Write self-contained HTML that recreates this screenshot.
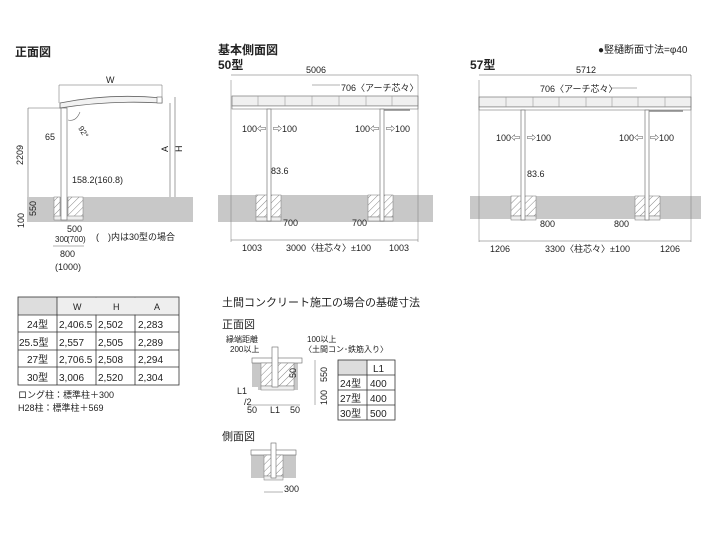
<!DOCTYPE html>
<html><head><meta charset="utf-8"><style>
html,body{margin:0;padding:0;background:#fff;}
svg{display:block;font-family:"Liberation Sans","Noto Sans CJK JP",sans-serif;}
</style></head><body>
<svg width="720" height="540" viewBox="0 0 720 540" xmlns="http://www.w3.org/2000/svg">
<defs>
<pattern id="h" width="5" height="5" patternUnits="userSpaceOnUse" patternTransform="rotate(45)">
<rect width="5" height="5" fill="#fff"/><line x1="0" y1="0" x2="0" y2="5" stroke="#888" stroke-width="1"/>
</pattern>
</defs>
<g font-size="9" fill="#222">
<!-- ===== 正面図 ===== -->
<text x="15" y="56" font-size="12" font-weight="bold">正面図</text>
<rect x="27" y="197" width="166" height="25" fill="#c8c8c8"/>
<rect x="54" y="197" width="6" height="20" fill="url(#h)" stroke="#777" stroke-width="0.5"/>
<rect x="68" y="197" width="15" height="20" fill="url(#h)" stroke="#777" stroke-width="0.5"/>
<rect x="54" y="216" width="29" height="4" fill="#eee" stroke="#777" stroke-width="0.5"/>
<rect x="61" y="108" width="6" height="112" fill="#fff" stroke="#777" stroke-width="0.7"/>
<path d="M60 103 Q110 93 162 98 L162 103 Q110 100 60 108 Z" fill="#f2f2f2" stroke="#666" stroke-width="0.8"/>
<rect x="157" y="97" width="5" height="6" fill="#fff" stroke="#666" stroke-width="0.6"/>
<line x1="170" y1="103" x2="170" y2="197" stroke="#777" stroke-width="0.7"/>
<line x1="175" y1="97" x2="175" y2="197" stroke="#777" stroke-width="0.7"/>
<line x1="59" y1="85" x2="162" y2="85" stroke="#666" stroke-width="0.6"/>
<line x1="59" y1="85" x2="59" y2="103" stroke="#666" stroke-width="0.5"/>
<line x1="162" y1="85" x2="162" y2="97" stroke="#666" stroke-width="0.5"/>
<text x="106" y="83">W</text>
<text x="168" y="152" transform="rotate(-90 168 152)" >A</text>
<text x="182" y="152" transform="rotate(-90 182 152)">H</text>
<line x1="28" y1="108" x2="28" y2="197" stroke="#666" stroke-width="0.6"/>
<line x1="28" y1="108" x2="61" y2="108" stroke="#666" stroke-width="0.5"/>
<text x="23" y="165" transform="rotate(-90 23 165)">2209</text>
<text x="45" y="140">65</text>
<text x="72" y="183">158.2(160.8)</text>
<path d="M68 120 Q76 122 80 112" fill="none" stroke="#666" stroke-width="0.6"/>
<text x="78" y="128" transform="rotate(60 78 128)" font-size="8">92°</text>
<text x="36" y="216" transform="rotate(-90 36 216)">550</text>
<text x="24" y="228" transform="rotate(-90 24 228)">100</text>
<text x="67" y="232">500</text>
<text x="55" y="242" font-size="8">300</text>
<text x="67" y="242" font-size="8">(700)</text>
<line x1="53" y1="246" x2="84" y2="246" stroke="#666" stroke-width="0.6"/>
<text x="60" y="257">800</text>
<text x="55" y="270">(1000)</text>
<text x="96" y="240">(　)内は30型の場合</text>

<!-- ===== 50型 ===== -->
<text x="218" y="54" font-size="12" font-weight="bold">基本側面図</text>
<text x="218" y="69" font-size="12" font-weight="bold">50型</text>
<line x1="231" y1="75" x2="418" y2="75" stroke="#666" stroke-width="0.6"/>
<text x="306" y="73">5006</text>
<line x1="312" y1="85" x2="340" y2="85" stroke="#666" stroke-width="0.6"/>
<text x="341" y="91">706〈アーチ芯々〉</text>
<rect x="232" y="96" width="186" height="10" fill="#f0f0f0" stroke="#777" stroke-width="0.7"/>
<rect x="232" y="106" width="186" height="3" fill="#fff" stroke="#777" stroke-width="0.6"/>
<g stroke="#999" stroke-width="0.6"><line x1="258" y1="96" x2="258" y2="106"/><line x1="285" y1="96" x2="285" y2="106"/><line x1="312" y1="96" x2="312" y2="106"/><line x1="339" y1="96" x2="339" y2="106"/><line x1="366" y1="96" x2="366" y2="106"/><line x1="392" y1="96" x2="392" y2="106"/></g>
<rect x="218" y="195" width="215" height="27" fill="#c8c8c8"/>
<rect x="256" y="195" width="25" height="22" fill="url(#h)" stroke="#777" stroke-width="0.5"/>
<rect x="368" y="195" width="25" height="22" fill="url(#h)" stroke="#777" stroke-width="0.5"/>
<rect x="256" y="217" width="25" height="4" fill="#eee" stroke="#777" stroke-width="0.5"/>
<rect x="368" y="217" width="25" height="4" fill="#eee" stroke="#777" stroke-width="0.5"/>
<rect x="267" y="109" width="4" height="112" fill="#fff" stroke="#777" stroke-width="0.7"/>
<rect x="380" y="109" width="4" height="112" fill="#fff" stroke="#777" stroke-width="0.7"/>
<line x1="384" y1="110" x2="410" y2="110" stroke="#888" stroke-width="1.5"/>
<text x="242" y="132">100⇦</text><text x="273" y="132">⇨100</text>
<text x="355" y="132">100⇦</text><text x="386" y="132">⇨100</text>
<text x="271" y="174">83.6</text>
<text x="283" y="226">700</text><text x="352" y="226">700</text>
<line x1="231" y1="80" x2="231" y2="242" stroke="#777" stroke-width="0.5"/>
<line x1="418" y1="75" x2="418" y2="242" stroke="#777" stroke-width="0.5"/>
<line x1="231" y1="240" x2="418" y2="240" stroke="#666" stroke-width="0.6"/>
<text x="242" y="251">1003</text><text x="286" y="251">3000〈柱芯々〉±100</text><text x="389" y="251">1003</text>

<!-- ===== 57型 ===== -->
<text x="598" y="53" font-size="10">●竪樋断面寸法=φ40</text>
<text x="470" y="69" font-size="12" font-weight="bold">57型</text>
<line x1="479" y1="75" x2="691" y2="75" stroke="#666" stroke-width="0.6"/>
<text x="576" y="73">5712</text>
<line x1="611" y1="88" x2="637" y2="88" stroke="#666" stroke-width="0.6"/>
<text x="540" y="92">706〈アーチ芯々〉</text>
<rect x="479" y="97" width="212" height="10" fill="#f0f0f0" stroke="#777" stroke-width="0.7"/>
<rect x="479" y="107" width="212" height="3" fill="#fff" stroke="#777" stroke-width="0.6"/>
<g stroke="#999" stroke-width="0.6"><line x1="506" y1="97" x2="506" y2="107"/><line x1="533" y1="97" x2="533" y2="107"/><line x1="559" y1="97" x2="559" y2="107"/><line x1="586" y1="97" x2="586" y2="107"/><line x1="612" y1="97" x2="612" y2="107"/><line x1="638" y1="97" x2="638" y2="107"/><line x1="665" y1="97" x2="665" y2="107"/></g>
<rect x="470" y="196" width="231" height="23" fill="#c8c8c8"/>
<rect x="511" y="196" width="25" height="20" fill="url(#h)" stroke="#777" stroke-width="0.5"/>
<rect x="635" y="196" width="25" height="20" fill="url(#h)" stroke="#777" stroke-width="0.5"/>
<rect x="511" y="216" width="25" height="4" fill="#eee" stroke="#777" stroke-width="0.5"/>
<rect x="635" y="216" width="25" height="4" fill="#eee" stroke="#777" stroke-width="0.5"/>
<rect x="521" y="110" width="4" height="110" fill="#fff" stroke="#777" stroke-width="0.7"/>
<rect x="645" y="110" width="4" height="110" fill="#fff" stroke="#777" stroke-width="0.7"/>
<line x1="649" y1="111" x2="683" y2="111" stroke="#888" stroke-width="1.5"/>
<text x="496" y="141">100⇦</text><text x="527" y="141">⇨100</text>
<text x="619" y="141">100⇦</text><text x="650" y="141">⇨100</text>
<text x="527" y="177">83.6</text>
<text x="540" y="227">800</text><text x="614" y="227">800</text>
<line x1="479" y1="80" x2="479" y2="242" stroke="#777" stroke-width="0.5"/>
<line x1="691" y1="75" x2="691" y2="242" stroke="#777" stroke-width="0.5"/>
<line x1="479" y1="241" x2="691" y2="241" stroke="#666" stroke-width="0.6"/>
<text x="490" y="252">1206</text><text x="545" y="252">3300〈柱芯々〉±100</text><text x="660" y="252">1206</text>

<!-- ===== table ===== -->
<rect x="18" y="297" width="39" height="18" fill="#ddd"/>
<g stroke="#333" stroke-width="0.8" fill="none">
<rect x="18" y="297" width="161" height="88"/>
<line x1="18" y1="315" x2="179" y2="315"/><line x1="18" y1="332" x2="179" y2="332"/><line x1="18" y1="350" x2="179" y2="350"/><line x1="18" y1="367" x2="179" y2="367"/>
<line x1="57" y1="297" x2="57" y2="385"/><line x1="96" y1="297" x2="96" y2="385"/><line x1="135" y1="297" x2="135" y2="385"/>
</g>
<rect x="57.5" y="297.5" width="121" height="17" fill="#eee"/>
<g font-size="10">
<text x="73" y="310" font-size="9">W</text><text x="113" y="310" font-size="9">H</text><text x="154" y="310" font-size="9">A</text>
<text x="27" y="328">24型</text><text x="59" y="328">2,406.5</text><text x="98" y="328">2,502</text><text x="138" y="328">2,283</text>
<text x="19" y="346">25.5型</text><text x="59" y="346">2,557</text><text x="98" y="346">2,505</text><text x="138" y="346">2,289</text>
<text x="27" y="363">27型</text><text x="59" y="363">2,706.5</text><text x="98" y="363">2,508</text><text x="138" y="363">2,294</text>
<text x="27" y="381">30型</text><text x="59" y="381">3,006</text><text x="98" y="381">2,520</text><text x="138" y="381">2,304</text>
</g>
<text x="18" y="398">ロング柱：標準柱＋300</text>
<text x="18" y="411">H28柱：標準柱＋569</text>

<!-- ===== 基礎寸法 ===== -->
<text x="222" y="306" font-size="11">土間コンクリート施工の場合の基礎寸法</text>
<text x="222" y="328" font-size="11">正面図</text>
<text x="226" y="342" font-size="8">縁端距離</text>
<text x="230" y="352" font-size="8">200以上</text>
<text x="307" y="342" font-size="8">100以上</text>
<text x="304" y="352" font-size="8">〈土間コン･鉄筋入り〉</text>
<rect x="252" y="362" width="30" height="25" fill="#c8c8c8"/>
<rect x="258" y="362" width="40" height="28" fill="#c8c8c8"/>
<rect x="252" y="358" width="50" height="5" fill="#fff" stroke="#666" stroke-width="0.6"/>
<rect x="261" y="363" width="33" height="23" fill="url(#h)" stroke="#777" stroke-width="0.5"/>
<rect x="261" y="386" width="33" height="4" fill="#eee" stroke="#777" stroke-width="0.5"/>
<rect x="272" y="347" width="6" height="40" fill="#fff" stroke="#666" stroke-width="0.6"/>
<text x="296" y="378" transform="rotate(-90 296 378)" font-size="9">50</text>
<text x="327" y="382" transform="rotate(-90 327 382)" font-size="9">550</text>
<text x="327" y="405" transform="rotate(-90 327 405)" font-size="9">100</text>
<line x1="315" y1="360" x2="315" y2="405" stroke="#666" stroke-width="0.5"/>
<text x="237" y="394" font-size="9">L1</text><text x="244" y="405" font-size="9">/2</text>
<text x="247" y="413" font-size="9">50</text><text x="270" y="413" font-size="9">L1</text><text x="290" y="413" font-size="9">50</text>
<line x1="248" y1="405" x2="300" y2="405" stroke="#666" stroke-width="0.5"/>
<rect x="338" y="360" width="29" height="15" fill="#ddd"/>
<g stroke="#333" stroke-width="0.8" fill="none">
<rect x="338" y="360" width="57" height="60"/>
<line x1="338" y1="375" x2="395" y2="375"/><line x1="338" y1="390" x2="395" y2="390"/><line x1="338" y1="405" x2="395" y2="405"/>
<line x1="367" y1="360" x2="367" y2="420"/>
</g>
<g font-size="10"><text x="373" y="372">L1</text>
<text x="340" y="387">24型</text><text x="370" y="387">400</text>
<text x="340" y="402">27型</text><text x="370" y="402">400</text>
<text x="340" y="417">30型</text><text x="370" y="417">500</text></g>
<text x="222" y="440" font-size="11">側面図</text>
<rect x="251" y="454" width="45" height="24" fill="#c8c8c8"/>
<rect x="251" y="450" width="45" height="5" fill="#fff" stroke="#666" stroke-width="0.6"/>
<rect x="264" y="455" width="19" height="21" fill="url(#h)" stroke="#777" stroke-width="0.5"/>
<rect x="264" y="476" width="19" height="4" fill="#eee" stroke="#777" stroke-width="0.5"/>
<rect x="271" y="443" width="5" height="35" fill="#fff" stroke="#666" stroke-width="0.6"/>
<line x1="264" y1="492" x2="283" y2="492" stroke="#666" stroke-width="0.5"/>
<text x="284" y="492" font-size="9">300</text>
</g>
</svg>
</body></html>
